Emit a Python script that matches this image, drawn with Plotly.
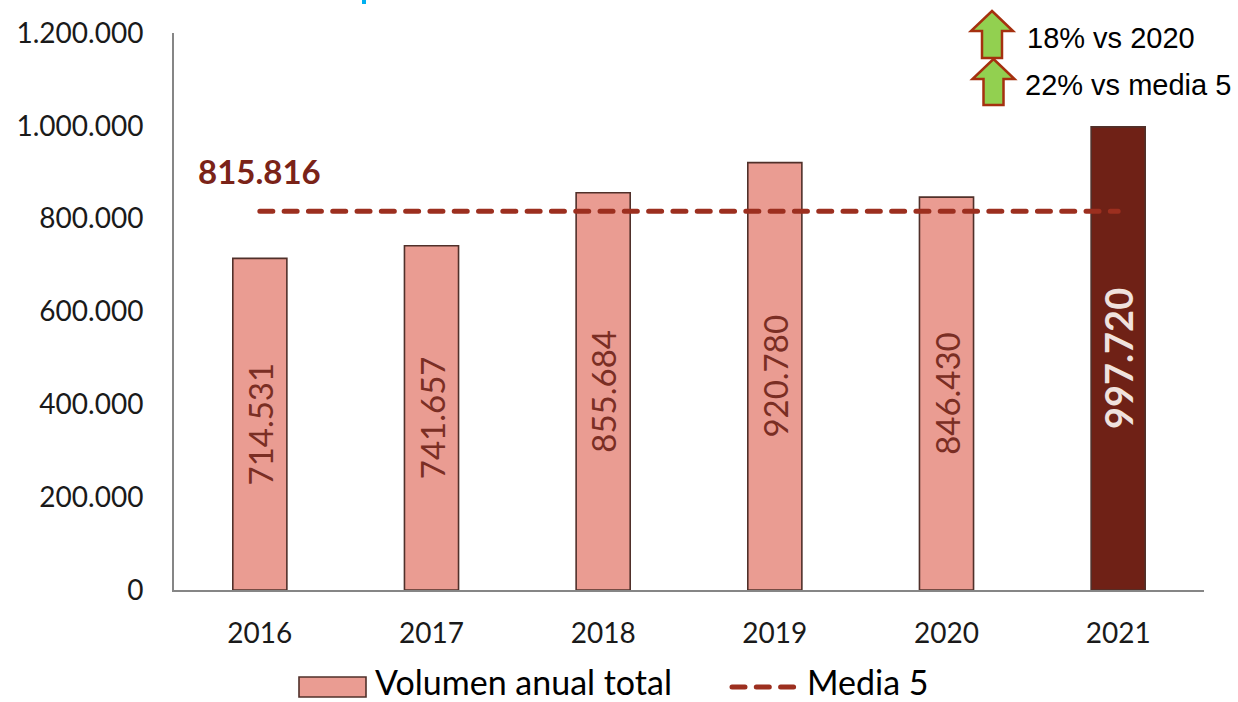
import plotly.graph_objects as go

years = ["2016", "2017", "2018", "2019", "2020", "2021"]
volumen = [714531, 741657, 855684, 920780, 846430, 997720]
media_5 = [815816] * 6
media_label = "815.816"
bar_labels = ["714.531", "741.657", "855.684", "920.780", "846.430", "997.720"]
note_1 = "18% vs 2020"
note_2 = "22% vs media 5"
series_1 = "Volumen anual total"
series_2 = "Media 5"

W, H = 1238, 702
L, R, T, B = 174, 1204, 33, 590
FONT = "Lato"
BAR = "#EA9C92"
DARK = "#6F2116"
EDGE = "#50302A"
LINE = "#9C2F1F"
DASH = "13px,11.3px"


def px(x):
    return (x - L) / (R - L)


def py(y):
    return (B - y) / (B - T)


def arrow(cx, tip, wing, bottom, half_w, half_s):
    pts = [(cx, tip), (cx + half_w, wing), (cx + half_s, wing), (cx + half_s, bottom),
           (cx - half_s, bottom), (cx - half_s, wing), (cx - half_w, wing)]
    path = "M" + " L".join(f"{px(a):.5f},{py(b):.5f}" for a, b in pts) + " Z"
    return dict(type="path", xref="paper", yref="paper", path=path,
                fillcolor="#92D050", line=dict(color="#A5300F", width=2.5))


def note(text, x, y, size, family, color="#000000", anchor="left", bold=False):
    return dict(xref="paper", yref="paper", x=px(x), y=py(y), text=f"<b>{text}</b>" if bold else text,
                showarrow=False, xanchor=anchor, yanchor="middle", xshift=0,
                font=dict(size=size, family=family, color=color))


fig = go.Figure()
fig.add_bar(
    x=years, y=volumen, name=series_1, width=0.315,
    marker=dict(color=[BAR] * 5 + [DARK], line=dict(color=EDGE, width=1.6)),
    text=[f"<b>{t}</b>" if i == 5 else t for i, t in enumerate(bar_labels)],
    textposition="inside", insidetextanchor="middle", textangle=-90,
    constraintext="none", cliponaxis=False,
    textfont=dict(family=FONT, size=[33] * 5 + [38],
                  color=["#7A2E24"] * 5 + ["#F0E2DE"]),
    hoverinfo="skip",
)
fig.add_scatter(
    x=years, y=media_5, name=series_2, mode="lines",
    line=dict(color=LINE, width=5, dash=DASH), hoverinfo="skip",
)

shapes = [
    arrow(992, 11, 31, 58, 21, 10),
    arrow(993.5, 59, 79, 105, 21, 10),
    dict(type="rect", xref="paper", yref="paper", x0=px(299), x1=px(366), y0=py(677), y1=py(697),
         fillcolor=BAR, line=dict(color=EDGE, width=1.6)),
    dict(type="line", xref="paper", yref="paper", x0=px(732), x1=px(795), y0=py(687), y1=py(687),
         line=dict(color=LINE, width=5, dash=DASH)),
    dict(type="line", xref="paper", yref="paper", x0=px(364), x1=px(364), y0=py(-1), y1=py(4),
         line=dict(color="#00B0F0", width=4)),
]
annotations = [
    note(note_1, 1025, 38, 29, "Liberation Sans"),
    note(note_2, 1023, 85, 29, "Liberation Sans"),
    note(media_label, 196, 171, 33, FONT, color="#7A2318", bold=True),
    note(series_1, 373, 681, 34, FONT),
    note(series_2, 805, 681, 34, FONT),
]

fig.update_layout(
    width=W, height=H, margin=dict(l=L, r=W - R, t=T, b=H - B, pad=0),
    paper_bgcolor="white", plot_bgcolor="white", showlegend=False,
    separators=",.", font=dict(family=FONT, size=28, color="#1A1A1A"),
    shapes=shapes, annotations=annotations,
)
fig.update_xaxes(
    type="category", showgrid=False, showline=True, linecolor="#868686", linewidth=2,
    ticks="", tickfont=dict(size=28), ticklabelstandoff=17,
)
fig.update_yaxes(
    range=[0, 1200000], dtick=200000, tickformat=",d", showgrid=False, zeroline=False,
    showline=True, linecolor="#868686", linewidth=2, ticks="",
    tickfont=dict(size=28), ticklabelstandoff=23,
)
post = """
document.body.style.margin = '0';
document.body.style.overflow = 'hidden';
var s = document.createElement('style');
s.textContent = 'path[style*="stroke-dasharray"]{stroke-linecap:round}';
document.head.appendChild(s);
"""
fig.write_html("out.html", post_script=post, config={"displayModeBar": False})
